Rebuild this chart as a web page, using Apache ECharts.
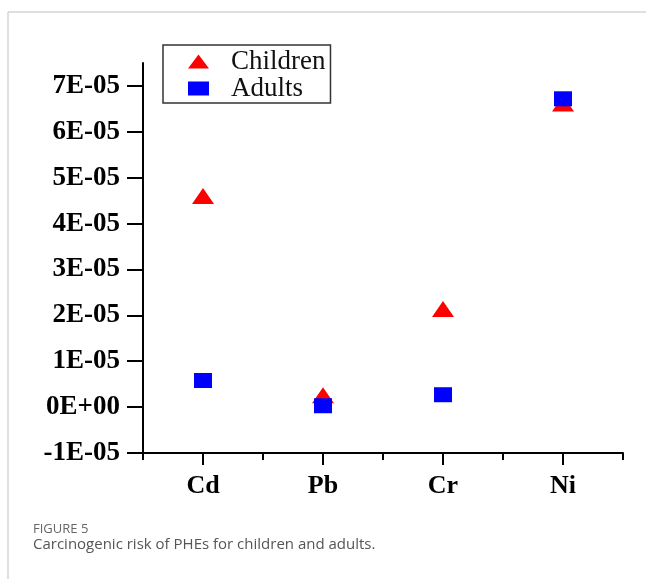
<!DOCTYPE html>
<html>
<head>
<meta charset="utf-8">
<script src="https://cdn.jsdelivr.net/npm/echarts@6/dist/echarts.min.js"></script>
<style>
html,body{margin:0;padding:0;background:#fff;}
#chart{width:646px;height:579px;}
</style>
</head>
<body>
<div id="chart"></div>
<script>
var categories = ['Cd', 'Pb', 'Cr', 'Ni'];
var children = [4.6e-5, 0.26e-5, 2.14e-5, 6.62e-5];
var adults = [0.58e-5, 0.03e-5, 0.27e-5, 6.72e-5];
var yTicks = [-1e-5, 0, 1e-5, 2e-5, 3e-5, 4e-5, 5e-5, 6e-5, 7e-5];
var yTickLabels = ['-1E-05', '0E+00', '1E-05', '2E-05', '3E-05', '4E-05', '5E-05', '6E-05', '7E-05'];
var seriesNames = ['Children', 'Adults'];
var captionTitle = 'FIGURE 5';
var captionText = 'Carcinogenic risk of PHEs for children and adults.';

function yLabel(v) {
  for (var i = 0; i < yTicks.length; i++) {
    if (Math.abs(yTicks[i] - v) < 1e-9) return yTickLabels[i];
  }
  return '';
}

var serif = '"Liberation Serif", "Times New Roman", serif';
var chart = echarts.init(document.getElementById('chart'), null, {renderer: 'canvas'});
chart.setOption({
  animation: false,
  backgroundColor: '#fff',
  grid: {left: 143, top: 63, right: 23, bottom: 126, containLabel: false},
  legend: {
    orient: 'vertical',
    left: 163, top: 45,
    padding: [3, 5, 1, 25],
    itemGap: 0,
    itemWidth: 21, itemHeight: 14,
    borderColor: '#333', borderWidth: 1.5,
    textStyle: {fontFamily: serif, fontSize: 27, color: '#111', padding: [0, 0, 0, 17]},
    data: [{name: seriesNames[0], icon: 'triangle'}, {name: seriesNames[1], icon: 'rect'}]
  },
  xAxis: [{
    type: 'category', data: categories, position: 'bottom',
    axisLine: {show: true, onZero: false, lineStyle: {color: '#000', width: 2}},
    axisTick: {show: true, alignWithLabel: true, length: 12, lineStyle: {color: '#000', width: 2}},
    axisLabel: {fontFamily: serif, fontWeight: 'bold', fontSize: 26, color: '#000', margin: 20},
    splitLine: {show: false}
  }, {
    type: 'category', data: categories, position: 'bottom',
    axisLine: {show: false, onZero: false},
    axisTick: {show: true, alignWithLabel: false, length: 7, lineStyle: {color: '#000', width: 2}},
    axisLabel: {show: false},
    splitLine: {show: false}
  }],
  yAxis: {
    type: 'value', min: -1e-5, max: 7.5e-5,
    axisLine: {show: true, onZero: false, lineStyle: {color: '#000', width: 2}},
    axisTick: {show: true, length: 16, customValues: yTicks, lineStyle: {color: '#000', width: 2}},
    axisLabel: {customValues: yTicks, formatter: yLabel, fontFamily: serif, fontWeight: 'bold', fontSize: 27, color: '#000', margin: 23},
    splitLine: {show: false}
  },
  series: [{
    name: seriesNames[0], type: 'scatter', symbol: 'triangle', symbolSize: [22, 16],
    itemStyle: {color: '#ff0000', opacity: 1}, data: children
  }, {
    name: seriesNames[1], type: 'scatter', symbol: 'rect', symbolSize: [18, 15],
    itemStyle: {color: '#0000ff', opacity: 1}, data: adults
  }],
  graphic: [
    {type: 'line', shape: {x1: 8, y1: 12, x2: 646, y2: 12}, style: {stroke: '#d4d4d4', lineWidth: 1.5}},
    {type: 'line', shape: {x1: 8, y1: 12, x2: 8, y2: 579}, style: {stroke: '#d4d4d4', lineWidth: 1.5}},
    {type: 'text', left: 33, top: 523, style: {text: captionTitle, fill: '#666', font: '500 13px "Open Sans", "Noto Sans", sans-serif'}},
    {type: 'text', left: 33, top: 537, style: {text: captionText, fill: '#555', font: '15px "Open Sans", "Noto Sans", sans-serif'}}
  ]
});
</script>
</body>
</html>
